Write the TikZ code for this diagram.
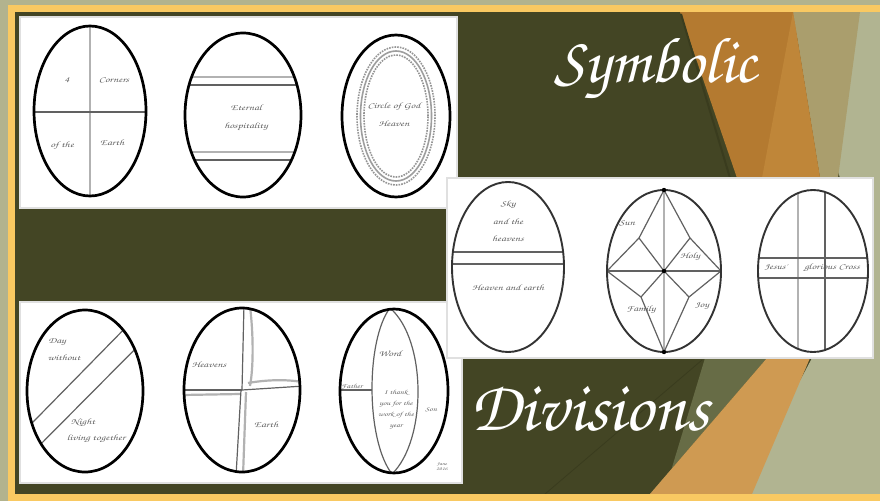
\documentclass[tikz,border=0pt]{standalone}
\usepackage{fontspec}
\usepackage{graphicx}
\newfontfamily\scriptf{TeX Gyre Chorus}
\newfontfamily\lblf[FakeStretch=1.4]{TeX Gyre Chorus}
\definecolor{khaki}{HTML}{B2B38E}
\definecolor{yel}{HTML}{F9C962}
\definecolor{olv}{HTML}{434524}
\definecolor{olvd}{HTML}{3A3C1E}
\definecolor{orng}{HTML}{B47A30}
\definecolor{orngl}{HTML}{BF8639}
\definecolor{orng2}{HTML}{CF9A52}
\definecolor{tan}{HTML}{AA9E6D}
\definecolor{sage}{HTML}{B1B491}
\definecolor{midg}{HTML}{676C46}
\begin{document}
\begin{tikzpicture}[x=1pt,y=-1pt,
  eggthick/.style={draw=black, line width=2.7pt},
  eggthin/.style={draw=black!80, line width=1.9pt},
  divl/.style={draw=black!62, line width=1.2pt},
  divg/.style={draw=black!30, line width=2.2pt},
  lbl/.style={font=\lblf\fontsize{8.2}{10}\selectfont, text=black!62, inner sep=0pt, align=center},
  lbls/.style={font=\lblf\fontsize{6.3}{11}\selectfont, text=black!62, inner sep=0pt, align=center},
  title/.style={text=white, inner sep=0pt},
  panel/.style={fill=white, draw=black!12, line width=1.2pt}]
\useasboundingbox (0,0) rectangle (880,501);
% background and facets
\fill[khaki] (0,0) rectangle (880,501);
\fill[olv] (15,12) rectangle (880,494);
\fill[sage] (790,12) -- (880,12) -- (880,494) -- (740,494) -- (812,358) -- (840,178) -- cycle;
\fill[tan] (793,12) -- (860,12) -- (838,178) -- (820,178) -- cycle;
\fill[orng] (680,12) -- (793,12) -- (820,178) -- (737,178) -- cycle;
\fill[orngl] (793,12) -- (820,178) -- (762,178) -- cycle;
\draw[olvd, line width=2pt] (681,14) -- (730,178);
\fill[midg] (705,358) -- (767,358) -- (650,494) -- (664,494) -- cycle;
\fill[orng2] (767,358) -- (810,358) -- (752,494) -- (650,494) -- cycle;
\draw[olvd, line width=0.8pt] (702,360) -- (545,494);
% yellow frame
\draw[yel, line width=6.5pt] (884,8.5) -- (11.5,8.5) -- (11.5,497.5) -- (884,497.5);
% panels
\path[panel] (20,17) rectangle (457,208);
\path[panel] (20,302) rectangle (462,483);
\path[panel] (447,178) rectangle (873,358);

% ---- Egg 1: 4 corners
\begin{scope}
\clip (90,111) ellipse [x radius=56pt, y radius=85pt];
\draw[divg] (90,20) -- (90,200);
\draw[divl] (30,112) -- (150,112);
\end{scope}
\draw[eggthick] (90,111) ellipse [x radius=56pt, y radius=85pt];
\node[lbl] (e1a) at (67,80) {4};
\node[lbl] (e1b) at (114,80) {Corners};
\node[lbl] (e1c) at (62,146) {of the};
\node[lbl] (e1d) at (112,143) {Earth};

% ---- Egg 2: bands
\begin{scope}
\clip (243,115) ellipse [x radius=58pt, y radius=82pt];
\draw[divg] (180,77) -- (310,77);
\draw[divl] (180,85) -- (310,85);
\draw[divg] (180,152) -- (310,152);
\draw[divl] (180,160) -- (310,160);
\end{scope}
\draw[eggthick] (243,115) ellipse [x radius=58pt, y radius=82pt];
\node[lbl] (e2a) at (246,108) {Eternal};
\node[lbl] (e2b) at (246,127) {hospitality};

% ---- Egg 3: rings
\draw[black!42, line width=1.6pt, dash pattern=on 1.6pt off 1.1pt] (396,116) ellipse [x radius=39pt, y radius=69pt];
\draw[black!38, line width=1.6pt] (396,116) ellipse [x radius=35.5pt, y radius=65pt];
\draw[black!42, line width=1.6pt, dash pattern=on 1.6pt off 1.1pt] (396,116) ellipse [x radius=32pt, y radius=61pt];
\draw[eggthick] (396,116) ellipse [x radius=54pt, y radius=81pt];
\node[lbl] (e3a) at (394,107) {Circle of God};
\node[lbl] (e3b) at (394,124) {Heaven};

% ---- Egg 4: upper and lower world
\begin{scope}
\clip (508,267) ellipse [x radius=56pt, y radius=85pt];
\draw[divl] (445,252) -- (570,252);
\draw[divl] (445,264) -- (570,264);
\end{scope}
\draw[eggthin] (508,267) ellipse [x radius=56pt, y radius=85pt];
\node[lbl] (e4a) at (508,205) {Sky};
\node[lbl] (e4b) at (508,222) {and the};
\node[lbl] (e4c) at (508,239) {heavens};
\node[lbl] (e4d) at (508,288) {Heaven and earth};

% ---- Egg 5: star
\coordinate (T) at (664,190);
\coordinate (B) at (664,352);
\coordinate (L) at (607,271);
\coordinate (R) at (721,271);
\coordinate (C) at (664,271);
\coordinate (UL) at (639,238);
\coordinate (UR) at (690,238);
\coordinate (LL) at (641,297);
\coordinate (LR) at (689,297);
\draw[divg] (T) -- (B);
\draw[divl] (L) -- (R);
\draw[divl] (T) -- (UL) -- (L) (T) -- (UR) -- (R) (B) -- (LL) -- (L) (B) -- (LR) -- (R);
\draw[divl] (UL) -- (C) (UR) -- (C) (LL) -- (C) (LR) -- (C);
\draw[eggthin] (C) ellipse [x radius=57pt, y radius=81pt];
\fill (C) circle [radius=2.2pt];
\fill (T) circle [radius=2.2pt];
\fill (B) circle [radius=2.2pt];
\node[lbl] (e5a) at (627,223) {Sun};
\node[lbl] (e5b) at (690,257) {Holy};
\node[lbl] (e5c) at (641,310) {Family};
\node[lbl] (e5d) at (702,306) {Joy};

% ---- Egg 6: cross band
\begin{scope}
\clip (813,271) ellipse [x radius=55pt, y radius=81pt];
\draw[divg] (798,185) -- (798,360);
\draw[divl] (825,185) -- (825,360);
\draw[divl] (750,258) -- (875,258);
\draw[divl] (750,278) -- (875,278);
\end{scope}
\draw[eggthin] (813,271) ellipse [x radius=55pt, y radius=81pt];
\node[lbl] (e6a) at (776,268) {Jesus'};
\node[lbl] (e6b) at (832,268) {glorious Cross};

% ---- Egg 7: diagonal band
\begin{scope}
\clip (85,391) ellipse [x radius=58pt, y radius=81pt];
\draw[divl] (17,438.4) -- (137,316);
\draw[divl] (23,462) -- (153,331);
\end{scope}
\draw[eggthick] (85,391) ellipse [x radius=58pt, y radius=81pt];
\node[lbl] (e7a) at (57,342) {Day};
\node[lbl] (e7b) at (64,358) {without};
\node[lbl] (e7c) at (83,423) {Night};
\node[lbl] (e7d) at (96,439) {living together};

% ---- Egg 8: offset cross
\begin{scope}
\clip (242,390) ellipse [x radius=58pt, y radius=82pt];
\draw[divg] (250,306) .. controls (254,340) and (253,370) .. (250,386);
\draw[divl] (244,304) -- (242,390);
\draw[divg] (182,395) -- (240,394);
\draw[divl] (180,390) -- (242,390);
\draw[divg] (248,383) .. controls (265,380) and (285,379) .. (302,382);
\draw[divl] (242,390) -- (304,386);
\draw[divl] (241,390) -- (236,476);
\draw[divg] (246,392) -- (243,476);
\end{scope}
\draw[eggthick] (242,390) ellipse [x radius=58pt, y radius=82pt];
\node[lbl] (e8a) at (209,365) {Heavens};
\node[lbl] (e8b) at (266,425) {Earth};

% ---- Egg 9: lens
\begin{scope}
\clip (394,391) ellipse [x radius=54pt, y radius=82pt];
\draw[divl] (390,308) .. controls (365.7,340) and (365.7,440) .. (392,474);
\draw[divl] (390,308) .. controls (427,340) and (427,440) .. (392,474);
\draw[divl] (336,390) -- (372,390);
\end{scope}
\draw[eggthick] (394,391) ellipse [x radius=54pt, y radius=82pt];
\node[lbl] (e9a) at (390,354) {Word};
\node[lbls] (e9b) at (396,410) {I thank\\you for the\\work of the\\year};
\node[lbls] (e9c) at (352,387) {Father};
\node[lbls] (e9d) at (431,410) {Son};
\node[lbls, font=\lblf\fontsize{4.5}{5}\selectfont] (sig) at (442,467) {Jane\\2016};

% titles
\node[title, anchor=base west, font=\scriptf\fontsize{65}{65}\selectfont] (t1) at (554,82) {Symbolic};
\node[title, anchor=base west, font=\scriptf\fontsize{71}{71}\selectfont] (t2) at (470,430) {Divisions};
\end{tikzpicture}
\end{document}
